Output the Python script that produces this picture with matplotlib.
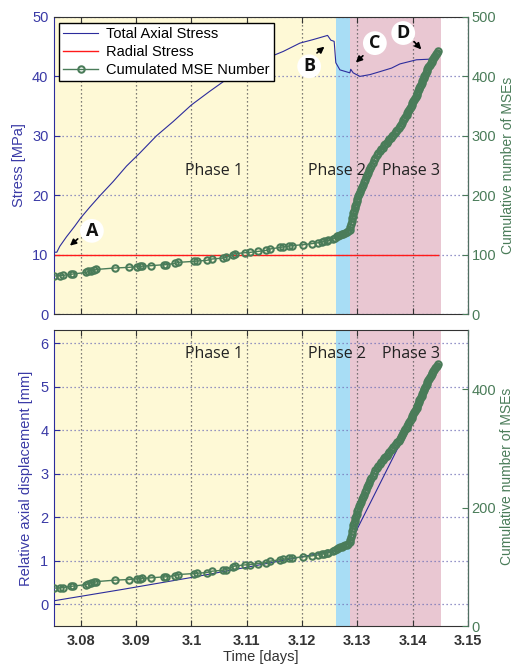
import numpy as np
import matplotlib.pyplot as plt

plt.rcParams['font.family'] = ['Liberation Sans', 'DejaVu Sans']

# --- data ---
# total axial stress (MPa) vs time (days)
stress_t = [3.07515, 3.07566, 3.07620, 3.07741, 3.07891, 3.08000, 3.08163, 3.08344,
            3.08585, 3.08826, 3.09067, 3.09368, 3.09670, 3.10000, 3.10332, 3.10634,
            3.11056, 3.11448, 3.11659, 3.11960, 3.12201, 3.12461, 3.1252, 3.1258,
            3.1261, 3.12684, 3.12864, 3.1288, 3.12924, 3.13045, 3.13226, 3.13407,
            3.13618, 3.13769, 3.1407, 3.14311, 3.14365, 3.1443]
axial_stress = [10.4, 10.4, 11.4, 13.0, 14.8, 16.2, 18.0, 19.9,
                22.3, 24.9, 27.1, 30.0, 32.4, 35.2, 37.5, 39.5,
                41.4, 43.4, 44.2, 45.6, 46.2, 46.9, 46.1, 45.9,
                42.3, 41.1, 40.6, 41.2, 40.6, 40.0, 40.3, 40.8,
                41.4, 42.1, 42.8, 42.9, 42.7, 42.6]
radial_t = [3.07515, 3.1445]
radial_stress = [10.0, 10.0]

# cumulated MSE number
mse_t = [3.07515, 3.07632, 3.07675, 3.07825, 3.07855, 3.08096, 3.08133, 3.08175,
         3.08247, 3.08283, 3.08609, 3.08862, 3.09007, 3.09067, 3.09109, 3.09260,
         3.09501, 3.09531, 3.09711, 3.09754, 3.10043, 3.10103, 3.10273, 3.10363,
         3.10574, 3.10622, 3.10754, 3.10785, 3.10966, 3.11056, 3.11206, 3.11356,
         3.11418, 3.11599, 3.11658, 3.11767, 3.11810, 3.12020, 3.12172, 3.12291,
         3.12353, 3.12394, 3.12443, 3.12472, 3.12562, 3.12593, 3.12624, 3.12654,
         3.12684, 3.12714, 3.12744, 3.12774, 3.12804, 3.12834, 3.12864,
         3.12874, 3.12884, 3.12894, 3.12904, 3.12914, 3.12924,
         3.12937, 3.12950, 3.12963, 3.12976, 3.12989, 3.13002, 3.13015,
         3.13032, 3.13050, 3.13067, 3.13084, 3.13101, 3.13119, 3.13136,
         3.13154, 3.13172, 3.13190, 3.13208, 3.13226,
         3.13251, 3.13276, 3.13301, 3.13327, 3.13352, 3.13377,
         3.13404, 3.13431, 3.13458, 3.13485, 3.13507, 3.13528,
         3.13553, 3.13578, 3.13603, 3.13628, 3.13653, 3.13678,
         3.13699, 3.13720, 3.13744, 3.13769,
         3.13789, 3.13809, 3.13829, 3.13849, 3.13869, 3.13889,
         3.13905, 3.13920, 3.13935, 3.13950, 3.13965, 3.13980,
         3.13995, 3.14010, 3.14025, 3.14040, 3.14055, 3.14070,
         3.14083, 3.14096, 3.14109, 3.14122, 3.14135, 3.14148, 3.14160,
         3.14172, 3.14184, 3.14197, 3.14209, 3.14221,
         3.14236, 3.14251, 3.14266, 3.14281, 3.14296, 3.14311,
         3.14326, 3.14341, 3.14356, 3.14371, 3.14386, 3.14401, 3.14416,
         3.14432, 3.14452]
mse_n = [64, 64.5, 65, 67, 67.3, 70, 71.7, 72.9,
         74, 75, 77.4, 78.5, 79.6, 80.2, 80.5, 81.3,
         83, 83, 85.2, 86.9, 88.6, 89.2, 90.2, 92.5,
         94.2, 95.3, 99.8, 101.5, 103.2, 103.7, 105.4, 107.1,
         109.4, 112.1, 112.8, 114.5, 115, 116.7, 118.4, 120,
         121.2, 122.2, 123.4, 123.9, 126.3, 128, 130.6, 132,
         133, 134, 135, 136, 137.4, 139, 142,
         146, 151, 156, 161, 165, 170,
         174, 178, 182, 186, 190, 194, 198,
         202, 206, 210, 214, 218, 222, 226,
         230, 234, 238, 242, 246,
         250, 254, 259, 263, 267, 271,
         274, 277, 280, 284, 286, 288,
         291, 294, 297, 299, 302, 305,
         308, 310, 313, 316,
         319, 322, 326, 329, 332, 335,
         338, 341, 344, 347, 349, 352,
         355, 358, 361, 364, 366, 369,
         372, 375, 378, 381, 384, 386, 389,
         392, 395, 398, 400, 403,
         406, 409, 412, 415, 417, 420,
         423, 425, 428, 430, 432, 435, 437,
         440, 442]

# relative axial displacement (mm)
disp_t = [3.07515, 3.0875, 3.0998, 3.1130, 3.12575, 3.1285, 3.1291, 3.1374,
          3.1390, 3.1405, 3.1420, 3.1435, 3.1445]
disp_mm = [0.08, 0.34, 0.61, 0.92, 1.23, 1.40, 1.51, 3.61,
           3.95, 4.35, 4.80, 5.20, 5.45]

phases = ['Phase 1', 'Phase 2', 'Phase 3']
phase_edges = [3.07515, 3.1262, 3.1287, 3.1451]
phase_colors = ['#fef9d6', '#a8ddf5', '#e9c7d2']
phase_label_t = [3.1041, 3.12635, 3.13962]

# letter marks: (letter, text pos, arrow tail, arrow head)
marks = [('A', (3.0820, 14.0), (3.07982, 12.95), (3.07765, 11.2)),
         ('B', (3.12128, 41.7), (3.12231, 43.65), (3.12443, 45.3)),
         ('C', (3.13316, 45.6), (3.13136, 43.8), (3.12937, 42.0)),
         ('D', (3.13829, 47.3), (3.13991, 46.2), (3.14190, 44.2))]

blue = '#2c2c9c'
blue_txt = '#3a3aa6'
green = '#4a7c59'
red = '#ff1a1a'
xlim = (3.07515, 3.15)

fig = plt.figure(figsize=(5.14, 6.67), dpi=100)
ax1 = fig.add_axes([54 / 514, 1 - 314 / 667, 414 / 514, 297 / 667])
ax2 = fig.add_axes([54 / 514, 1 - 626 / 667, 414 / 514, 296 / 667])


def style_axes(ax, axr):
    for c in range(3):
        ax.axvspan(phase_edges[c], phase_edges[c + 1], color=phase_colors[c], lw=0, zorder=0)
    ax.set_xlim(xlim)
    ax.set_xticks([3.08, 3.09, 3.10, 3.11, 3.12, 3.13, 3.14, 3.15])
    ax.xaxis.grid(True, color='#555555', linestyle=(0, (1, 2.2)), lw=0.9)
    ax.yaxis.grid(True, color='#7373b8', linestyle=(0, (1, 2.2)), lw=0.9)
    ax.tick_params(axis='x', direction='in', length=4, top=True, colors='#333333',
                   labelsize=10.5, pad=6)
    ax.tick_params(axis='y', direction='in', length=4, colors=blue, labelcolor=blue_txt,
                   labelsize=10.5, pad=4)
    axr.tick_params(axis='y', direction='in', length=4, colors=green, labelcolor=green,
                    labelsize=10.5, pad=2.5)
    for s in ['top', 'bottom']:
        ax.spines[s].set_color('#333333')
        axr.spines[s].set_visible(False)
    ax.spines['left'].set_color(blue)
    axr.spines['left'].set_visible(False)
    axr.spines['right'].set_color('#4f6f62')


mse_style = dict(color=green, lw=1.0, marker='o', ms=4.6, mfc='none', mec=green, mew=1.5)

# --- top panel ---
ax1r = ax1.twinx()
style_axes(ax1, ax1r)
l1, = ax1.plot(stress_t, axial_stress, color=blue, lw=0.8, label='Total Axial Stress')
l2, = ax1.plot(radial_t, radial_stress, color=red, lw=1.0, label='Radial Stress')
l3, = ax1r.plot(mse_t, mse_n, label='Cumulated MSE Number', **mse_style)
ax1.set_ylim(0, 50)
ax1.set_yticks(range(0, 51, 10))
ax1r.set_ylim(0, 500)
ax1r.set_yticks(range(0, 501, 100))
ax1.tick_params(axis='x', labelbottom=False)
ax1.set_ylabel('Stress [MPa]', color=blue_txt, fontsize=10.5)
ax1.yaxis.set_label_coords(-0.068, 0.5)
ax1r.set_ylabel('Cumulative number of MSEs', color=green, fontsize=10)
ax1r.yaxis.set_label_coords(1.080, 0.5)

leg = ax1r.legend(handles=[l1, l2, l3], loc='upper left', bbox_to_anchor=(0.012, 0.98),
                  borderaxespad=0, fancybox=False, edgecolor='black', framealpha=1,
                  fontsize=10.5, handlelength=2.4, numpoints=1, labelspacing=0.25,
                  borderpad=0.3, handletextpad=0.5)
leg.get_frame().set_linewidth(1.0)

for name, xt in zip(phases, phase_label_t):
    ax1.text(xt, 24.0, name, ha='center', va='center', fontsize=11.5,
             family='Open Sans', color='#222222', zorder=5)

for letter, pos, tail, head in marks:
    ax1.annotate('', xy=head, xytext=tail,
                 arrowprops=dict(arrowstyle='-|>', color='black', lw=1.2, mutation_scale=9),
                 zorder=6)
    ax1.text(pos[0], pos[1], letter, ha='center', va='center', fontsize=13,
             fontweight='bold', family='Open Sans', color='#111111', zorder=7,
             bbox=dict(boxstyle='circle,pad=0.16', fc='white', ec='none'))

# --- bottom panel ---
ax2r = ax2.twinx()
style_axes(ax2, ax2r)
ax2.plot(disp_t, disp_mm, color=blue, lw=0.8)
ax2r.plot(mse_t, mse_n, **mse_style)
ax2.set_ylim(-0.5, 6.3)
ax2.set_yticks(range(0, 7))
ax2r.set_ylim(0, 500)
ax2r.set_yticks([0, 200, 400])
ax2.set_xticklabels(['3.08', '3.09', '3.1', '3.11', '3.12', '3.13', '3.14', '3.15'])
for lab in ax2.get_xticklabels():
    lab.set_fontweight('bold')
ax2.set_xlabel('Time [days]', fontsize=10.5, color='#333333', labelpad=1)
ax2.set_ylabel('Relative axial displacement [mm]', color=blue_txt, fontsize=10.5)
ax2.yaxis.set_label_coords(-0.05, 0.5)
ax2r.set_ylabel('Cumulative number of MSEs', color=green, fontsize=10)
ax2r.yaxis.set_label_coords(1.078, 0.504)

for name, xt in zip(phases, phase_label_t):
    ax2.text(xt, 5.74, name, ha='center', va='center', fontsize=11.5,
             family='Open Sans', color='#222222', zorder=5)

fig.savefig('out.png', dpi=100)
